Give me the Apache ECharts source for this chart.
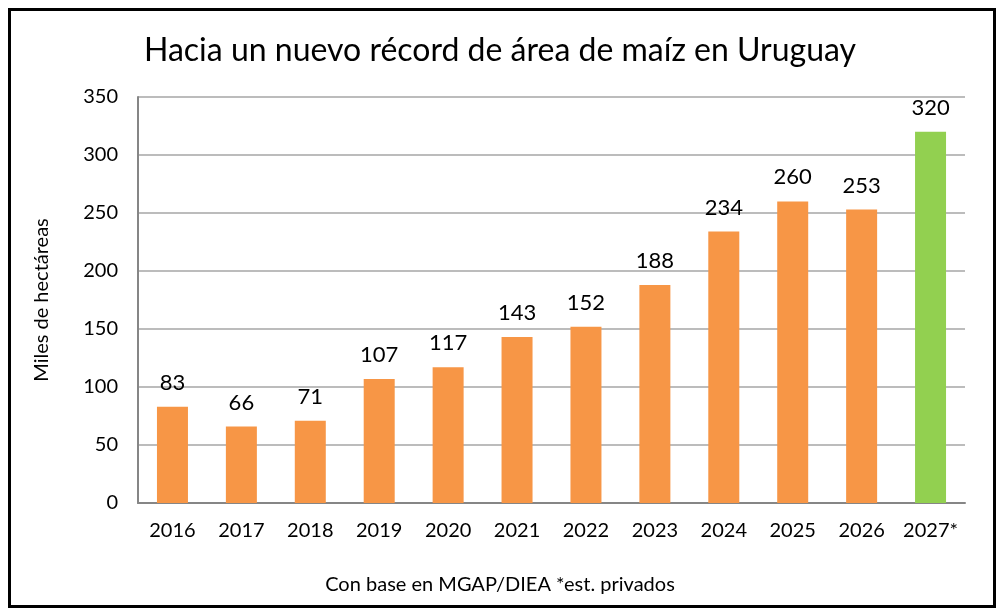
<!DOCTYPE html>
<html>
<head>
<meta charset="utf-8">
<script src="https://cdn.jsdelivr.net/npm/echarts@6/dist/echarts.min.js"></script>
<style>
  html, body { margin: 0; padding: 0; background: #fff; }
  #frame { position: absolute; left: 8px; top: 8px; width: 982px; height: 594px; border: 3px solid #000; }
  #chart { position: absolute; left: 0; top: 0; width: 1000px; height: 613px; }
</style>
</head>
<body>
<div id="frame"></div>
<div id="chart"></div>
<script>
const years = ['2016', '2017', '2018', '2019', '2020', '2021', '2022', '2023', '2024', '2025', '2026', '2027*'];
const area = [83, 66, 71, 107, 117, 143, 152, 188, 234, 260, 253, 320];
const estimated = [false, false, false, false, false, false, false, false, false, false, false, true];

const orange = '#F79646';
const green = '#92D050';
const font = 'Lato, "Open Sans", sans-serif';

const chart = echarts.init(document.getElementById('chart'), null, { renderer: 'canvas' });

const option = {
  backgroundColor: 'transparent',
  animation: false,
  title: [
    {
      text: 'Hacia un nuevo récord de área de maíz en Uruguay',
      left: 'center',
      top: 30,
      textStyle: { fontFamily: font, fontSize: 32, fontWeight: 'normal', color: '#000' }
    },
    {
      text: 'Con base en MGAP/DIEA *est. privados',
      left: 'center',
      top: 570,
      textStyle: { fontFamily: font, fontSize: 20, fontWeight: 'normal', color: '#000' }
    }
  ],
  grid: { left: 138, right: 35, top: 97, bottom: 110 },
  xAxis: {
    type: 'category',
    data: years,
    axisLine: { lineStyle: { color: '#868686', width: 2 } },
    axisTick: { show: false },
    axisLabel: { interval: 0, fontFamily: font, fontSize: 20, color: '#000', margin: 18 }
  },
  yAxis: {
    type: 'value',
    min: 0,
    max: 350,
    interval: 50,
    name: 'Miles de hectáreas',
    nameLocation: 'middle',
    nameGap: 86,
    nameTextStyle: { fontFamily: font, fontSize: 20, color: '#000' },
    axisLine: { show: true, lineStyle: { color: '#868686', width: 2 } },
    axisTick: { show: false },
    axisLabel: { fontFamily: font, fontSize: 20, color: '#000', margin: 20 },
    splitLine: { lineStyle: { color: '#A6A6A6', width: 1.5 } }
  },
  series: [
    {
      type: 'bar',
      barWidth: 31,
      data: area.map((v, i) => ({ value: v, itemStyle: { color: estimated[i] ? green : orange } })),
      label: {
        show: true,
        position: 'top',
        distance: 13,
        fontFamily: font,
        fontSize: 22,
        color: '#000'
      }
    }
  ]
};

chart.setOption(option);
</script>
</body>
</html>
